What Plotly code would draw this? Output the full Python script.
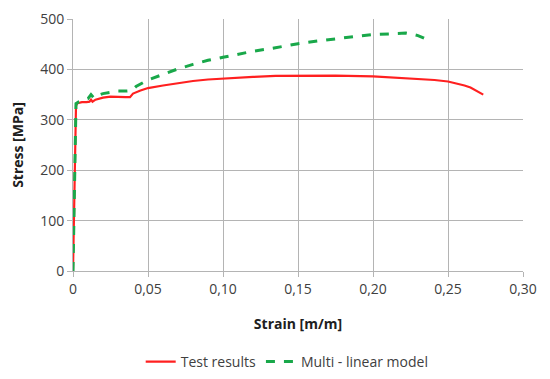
import plotly.graph_objects as go

test_strain = [0, 0.0005, 0.001, 0.0015, 0.002, 0.003, 0.006, 0.009, 0.011, 0.012, 0.013,
               0.015, 0.02, 0.025, 0.03, 0.035, 0.038, 0.04, 0.045, 0.05, 0.06, 0.07, 0.08,
               0.09, 0.10, 0.12, 0.135, 0.15, 0.175, 0.2, 0.222, 0.241, 0.25, 0.256, 0.261,
               0.265, 0.269, 0.2735]
test_stress = [0, 100, 200, 300, 328, 333, 335, 335, 336, 340, 336, 340, 344, 346, 345, 345,
               345, 352, 358, 363, 368, 373, 377, 380, 382, 385, 387, 387.5, 387.5, 386, 383,
               379, 376, 372, 368, 364, 358, 350]

model_strain = [0, 0.0005, 0.001, 0.0015, 0.002, 0.004, 0.007, 0.01, 0.012, 0.014, 0.016,
                0.02, 0.025, 0.03, 0.035, 0.039, 0.042, 0.05, 0.06, 0.069, 0.08, 0.09, 0.10,
                0.12, 0.135, 0.15, 0.165, 0.18, 0.19, 0.2, 0.21, 0.217, 0.222, 0.226, 0.23,
                0.234, 0.2385]
model_stress = [0, 110, 220, 320, 332, 336, 338, 342, 350, 343, 348, 352, 355, 357, 357, 358,
                366, 379, 390, 400, 410, 418, 424, 436, 443, 451, 457, 463, 466, 469, 471, 472,
                472, 470, 467, 462, 456]

x_ticks = [0, 0.05, 0.10, 0.15, 0.20, 0.25, 0.30]
x_labels = ["0", "0,05", "0,10", "0,15", "0,20", "0,25", "0,30"]
y_ticks = [0, 100, 200, 300, 400, 500]

fig = go.Figure()
fig.add_trace(go.Scatter(x=test_strain, y=test_stress, mode="lines", name="Test results",
                         line=dict(color="#ff2020", width=2.2)))
fig.add_trace(go.Scatter(x=model_strain, y=model_stress, mode="lines", name="Multi - linear model",
                         line=dict(color="#19a84a", width=3, dash="dash")))

grid = "#b4b4b4"
fig.update_layout(
    width=542, height=371,
    margin=dict(l=65, r=27, t=11, b=108, autoexpand=False),
    paper_bgcolor="white", plot_bgcolor="white",
    font=dict(family="Open Sans", color="#404040", size=14),
    showlegend=True,
    legend=dict(orientation="h", x=0.476, xanchor="center", y=-0.361, yanchor="middle",
                font=dict(size=14, color="#404040")),
    xaxis=dict(range=[0, 0.30], tickvals=x_ticks, ticktext=x_labels, automargin=False,
               showgrid=True, gridcolor=grid, gridwidth=1,
               zeroline=False, showline=True, linecolor=grid, mirror=False,
               ticks="outside", ticklen=5, tickcolor=grid,
               title=dict(text="<b>Strain [m/m]</b>", font=dict(size=14, color="#202020"), standoff=22)),
    yaxis=dict(range=[0, 500], tickvals=y_ticks, automargin=False,
               showgrid=True, gridcolor=grid, gridwidth=1,
               zeroline=False, showline=True, linecolor=grid,
               ticks="outside", ticklen=5, tickcolor=grid,
               title=dict(text="<b>Stress [MPa]</b>", font=dict(size=14, color="#202020"), standoff=17)),
)
fig.write_html("out.html")
